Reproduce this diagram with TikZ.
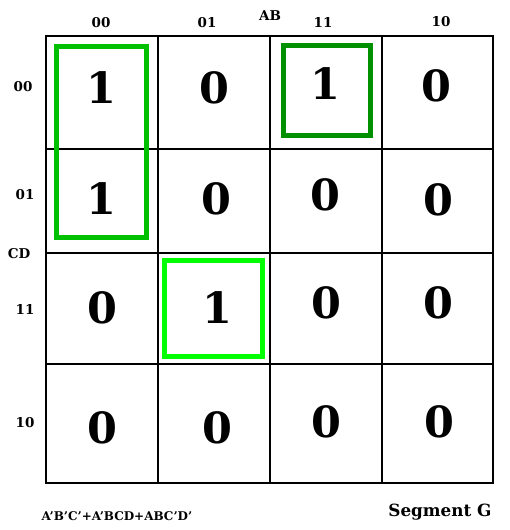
\documentclass[tikz,border=0pt]{standalone}
\usepackage{fontspec}
\setmainfont{DejaVu Serif}
\begin{document}
\begin{tikzpicture}[x=1pt,y=-1pt,
  digit/.style={font=\fontsize{43}{43}\selectfont\bfseries, inner sep=0pt},
  lab/.style={font=\fontsize{13.5}{13.5}\selectfont\bfseries, inner sep=0pt},
  grp/.style={line width=5pt}]
\definecolor{gA}{HTML}{00C000}
\definecolor{gB}{HTML}{009000}
\definecolor{gC}{HTML}{00FF00}
\path[use as bounding box] (0,0) rectangle (510,530);
% grid
\draw[line width=1.7pt] (46,36) rectangle (493,483);
\foreach \x in {158,270,382} \draw[line width=1.7pt] (\x,36) -- (\x,483);
\foreach \y in {149,253,364} \draw[line width=1.7pt] (46,\y) -- (493,\y);
% groups
\draw[grp, gA] (56,46) rectangle (146,237);
\draw[grp, gB] (283,45) rectangle (370,135);
\draw[grp, gC] (164,260) rectangle (262,356);
% column labels
\node[lab] (c0) at (101,23) {00};
\node[lab] (c1) at (207,23) {01};
\node[lab] (ab) at (270,16) {AB};
\node[lab] (c2) at (323,22) {11};
\node[lab] (c3) at (441,22) {10};
% row labels
\node[lab] (r0) at (23,87) {00};
\node[lab] (r1) at (25,195) {01};
\node[lab] (cd) at (19,254) {CD};
\node[lab] (r2) at (25,309) {11};
\node[lab] (r3) at (25,423) {10};
% cells
\node[digit] (m00) at (101,88) {1};
\node[digit] (m01) at (214,88) {0};
\node[digit] (m02) at (325,84) {1};
\node[digit] (m03) at (436,86) {0};
\node[digit] (m10) at (101,199) {1};
\node[digit] (m11) at (216,199) {0};
\node[digit] (m12) at (325,195) {0};
\node[digit] (m13) at (438,200) {0};
\node[digit] (m20) at (102,308) {0};
\node[digit] (m21) at (217,308) {1};
\node[digit] (m22) at (326,303) {0};
\node[digit] (m23) at (438,303) {0};
\node[digit] (m30) at (102,428) {0};
\node[digit] (m31) at (217,428) {0};
\node[digit] (m32) at (326,422) {0};
\node[digit] (m33) at (439,422) {0};
% bottom texts
\node[font=\fontsize{12}{12}\selectfont\bfseries, inner sep=0pt] (expr) at (117,516) {A’B’C’+A’BCD+ABC’D’};
\node[font=\fontsize{16.8}{16.8}\selectfont\bfseries, inner sep=0pt] (seg) at (440,512) {Segment G};
\end{tikzpicture}
\end{document}
